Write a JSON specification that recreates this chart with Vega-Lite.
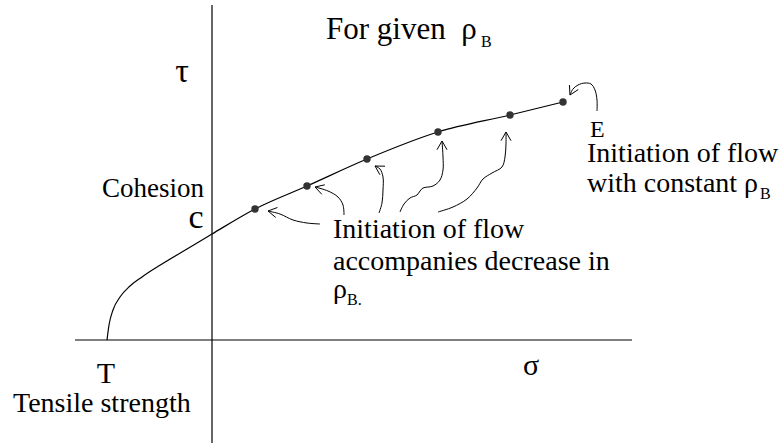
{
  "$schema": "https://vega.github.io/schema/vega-lite/v6.json",
  "width": 784,
  "height": 446,
  "autosize": {"type": "fit", "contains": "padding"},
  "padding": 0,
  "background": "white",
  "config": {"view": {"stroke": null}},
  "datasets": {
    "axes": [
      {"line": "sigma", "ord": 0, "s": -137, "t": 0},
      {"line": "sigma", "ord": 1, "s": 420, "t": 0},
      {"line": "tau", "ord": 0, "s": 0, "t": 335},
      {"line": "tau", "ord": 1, "s": 0, "t": -103}
    ],
    "locus": [
      {"ord": 0, "s": -105, "t": 0},
      {"ord": 1, "s": -103, "t": 15},
      {"ord": 2, "s": -99, "t": 30},
      {"ord": 3, "s": -92, "t": 43},
      {"ord": 4, "s": -82, "t": 54},
      {"ord": 5, "s": -70, "t": 63},
      {"ord": 6, "s": -50, "t": 76},
      {"ord": 7, "s": -25, "t": 91},
      {"ord": 8, "s": 0, "t": 106},
      {"ord": 9, "s": 43, "t": 131},
      {"ord": 10, "s": 95, "t": 154},
      {"ord": 11, "s": 155, "t": 181},
      {"ord": 12, "s": 226, "t": 208},
      {"ord": 13, "s": 298, "t": 225},
      {"ord": 14, "s": 351, "t": 238}
    ],
    "states": [
      {"s": 43, "t": 131},
      {"s": 95, "t": 154},
      {"s": 155, "t": 181},
      {"s": 226, "t": 208},
      {"s": 298, "t": 225},
      {"s": 351, "t": 238}
    ],
    "arrows": [
      {"arrow": 1, "ord": 0, "s": 108, "t": 116},
      {"arrow": 1, "ord": 1, "s": 95, "t": 117},
      {"arrow": 1, "ord": 2, "s": 81, "t": 120},
      {"arrow": 1, "ord": 3, "s": 68, "t": 126},
      {"arrow": 1, "ord": 4, "s": 56, "t": 129},
      {"arrow": 2, "ord": 0, "s": 132, "t": 125},
      {"arrow": 2, "ord": 1, "s": 131, "t": 135},
      {"arrow": 2, "ord": 2, "s": 126, "t": 143},
      {"arrow": 2, "ord": 3, "s": 116, "t": 149},
      {"arrow": 2, "ord": 4, "s": 103, "t": 153},
      {"arrow": 3, "ord": 0, "s": 167, "t": 127},
      {"arrow": 3, "ord": 1, "s": 170, "t": 137},
      {"arrow": 3, "ord": 2, "s": 171, "t": 150},
      {"arrow": 3, "ord": 3, "s": 171, "t": 163},
      {"arrow": 3, "ord": 4, "s": 168, "t": 171},
      {"arrow": 3, "ord": 5, "s": 163, "t": 174},
      {"arrow": 4, "ord": 0, "s": 188, "t": 128},
      {"arrow": 4, "ord": 1, "s": 192, "t": 136},
      {"arrow": 4, "ord": 2, "s": 198, "t": 142},
      {"arrow": 4, "ord": 3, "s": 205, "t": 145},
      {"arrow": 4, "ord": 4, "s": 208, "t": 149},
      {"arrow": 4, "ord": 5, "s": 211, "t": 152},
      {"arrow": 4, "ord": 6, "s": 221, "t": 154},
      {"arrow": 4, "ord": 7, "s": 228, "t": 160},
      {"arrow": 4, "ord": 8, "s": 231, "t": 170},
      {"arrow": 4, "ord": 9, "s": 231, "t": 183},
      {"arrow": 4, "ord": 10, "s": 230, "t": 199},
      {"arrow": 5, "ord": 0, "s": 226, "t": 128},
      {"arrow": 5, "ord": 1, "s": 241, "t": 133},
      {"arrow": 5, "ord": 2, "s": 255, "t": 141},
      {"arrow": 5, "ord": 3, "s": 265, "t": 152},
      {"arrow": 5, "ord": 4, "s": 271, "t": 161},
      {"arrow": 5, "ord": 5, "s": 280, "t": 167},
      {"arrow": 5, "ord": 6, "s": 290, "t": 173},
      {"arrow": 5, "ord": 7, "s": 293, "t": 183},
      {"arrow": 5, "ord": 8, "s": 294, "t": 197},
      {"arrow": 5, "ord": 9, "s": 294, "t": 208},
      {"arrow": 6, "ord": 0, "s": 385, "t": 229},
      {"arrow": 6, "ord": 1, "s": 385, "t": 240},
      {"arrow": 6, "ord": 2, "s": 383, "t": 250},
      {"arrow": 6, "ord": 3, "s": 379, "t": 256},
      {"arrow": 6, "ord": 4, "s": 373, "t": 257},
      {"arrow": 6, "ord": 5, "s": 366, "t": 255},
      {"arrow": 6, "ord": 6, "s": 361, "t": 251},
      {"arrow": 6, "ord": 7, "s": 358, "t": 245}
    ],
    "heads": [
      {"arrow": 1, "ord": 0, "s": 65.4, "t": 132.5},
      {"arrow": 1, "ord": 1, "s": 56, "t": 129},
      {"arrow": 1, "ord": 2, "s": 63.7, "t": 122.6},
      {"arrow": 2, "ord": 0, "s": 112.8, "t": 155.2},
      {"arrow": 2, "ord": 1, "s": 103, "t": 153},
      {"arrow": 2, "ord": 2, "s": 109.8, "t": 145.7},
      {"arrow": 3, "ord": 0, "s": 173, "t": 173.8},
      {"arrow": 3, "ord": 1, "s": 163, "t": 174},
      {"arrow": 3, "ord": 2, "s": 167.9, "t": 165.3},
      {"arrow": 4, "ord": 0, "s": 225, "t": 190.3},
      {"arrow": 4, "ord": 1, "s": 230, "t": 199},
      {"arrow": 4, "ord": 2, "s": 235, "t": 190.3},
      {"arrow": 5, "ord": 0, "s": 289, "t": 199.3},
      {"arrow": 5, "ord": 1, "s": 294, "t": 208},
      {"arrow": 5, "ord": 2, "s": 299, "t": 199.3},
      {"arrow": 6, "ord": 0, "s": 366.3, "t": 250.5},
      {"arrow": 6, "ord": 1, "s": 358, "t": 245},
      {"arrow": 6, "ord": 2, "s": 357.4, "t": 255}
    ],
    "body": [
      {"label": "Initiation of flow", "s": 121, "t": 102},
      {"label": "accompanies decrease in", "s": 121, "t": 70},
      {"label": "ρ", "s": 121, "t": 42},
      {"label": "Initiation of flow", "s": 375, "t": 178},
      {"label": "with constant ρ", "s": 375, "t": 148},
      {"label": "Tensile strength", "s": -199, "t": -72}
    ],
    "subs": [
      {"label": "B", "s": 269, "t": 293},
      {"label": "B", "s": 548, "t": 141},
      {"label": "B.", "s": 135, "t": 35}
    ],
    "symbols": [
      {"label": "τ", "s": -30, "t": 258},
      {"label": "c", "s": -16, "t": 112}
    ],
    "marks": [
      {"label": "T", "s": -106, "t": -43},
      {"label": "σ", "s": 319, "t": -35}
    ]
  },
  "layer": [
    {
      "data": {"name": "axes"},
      "mark": {"type": "line", "color": "black", "strokeWidth": 1.2},
      "encoding": {
        "x": {"field": "s", "type": "quantitative", "scale": {"domain": [-212, 572], "nice": false, "zero": false}, "axis": null},
        "y": {"field": "t", "type": "quantitative", "scale": {"domain": [-106, 340], "nice": false, "zero": false}, "axis": null},
        "detail": {"field": "line"},
        "order": {"field": "ord"}
      }
    },
    {
      "data": {"name": "locus"},
      "mark": {"type": "line", "color": "black", "strokeWidth": 1.2, "interpolate": "monotone"},
      "encoding": {
        "x": {"field": "s", "type": "quantitative"},
        "y": {"field": "t", "type": "quantitative"},
        "order": {"field": "ord"}
      }
    },
    {
      "data": {"name": "arrows"},
      "mark": {"type": "line", "color": "black", "strokeWidth": 1, "interpolate": "catmull-rom"},
      "encoding": {
        "x": {"field": "s", "type": "quantitative"},
        "y": {"field": "t", "type": "quantitative"},
        "detail": {"field": "arrow"},
        "order": {"field": "ord"}
      }
    },
    {
      "data": {"name": "heads"},
      "mark": {"type": "line", "color": "black", "strokeWidth": 1},
      "encoding": {
        "x": {"field": "s", "type": "quantitative"},
        "y": {"field": "t", "type": "quantitative"},
        "detail": {"field": "arrow"},
        "order": {"field": "ord"}
      }
    },
    {
      "data": {"name": "states"},
      "mark": {"type": "circle", "color": "#333333", "opacity": 1, "size": 55},
      "encoding": {
        "x": {"field": "s", "type": "quantitative"},
        "y": {"field": "t", "type": "quantitative"}
      }
    },
    {
      "data": {"values": [{"label": "For given\u00a0\u00a0ρ", "s": 114, "t": 301}]},
      "mark": {"type": "text", "font": "Liberation Serif", "color": "black", "fontSize": 31, "align": "left", "baseline": "alphabetic"},
      "encoding": {
        "x": {"field": "s", "type": "quantitative"},
        "y": {"field": "t", "type": "quantitative"},
        "text": {"field": "label"}
      }
    },
    {
      "data": {"name": "body"},
      "mark": {"type": "text", "font": "Liberation Serif", "color": "black", "fontSize": 28, "align": "left", "baseline": "alphabetic"},
      "encoding": {
        "x": {"field": "s", "type": "quantitative"},
        "y": {"field": "t", "type": "quantitative"},
        "text": {"field": "label"}
      }
    },
    {
      "data": {"name": "subs"},
      "mark": {"type": "text", "font": "Liberation Serif", "color": "black", "fontSize": 16, "align": "left", "baseline": "alphabetic"},
      "encoding": {
        "x": {"field": "s", "type": "quantitative"},
        "y": {"field": "t", "type": "quantitative"},
        "text": {"field": "label"}
      }
    },
    {
      "data": {"values": [{"label": "Cohesion", "s": -8, "t": 143}]},
      "mark": {"type": "text", "font": "Liberation Serif", "color": "black", "fontSize": 27, "align": "right", "baseline": "alphabetic"},
      "encoding": {
        "x": {"field": "s", "type": "quantitative"},
        "y": {"field": "t", "type": "quantitative"},
        "text": {"field": "label"}
      }
    },
    {
      "data": {"name": "symbols"},
      "mark": {"type": "text", "font": "Liberation Serif", "color": "black", "fontSize": 34, "align": "center", "baseline": "alphabetic"},
      "encoding": {
        "x": {"field": "s", "type": "quantitative"},
        "y": {"field": "t", "type": "quantitative"},
        "text": {"field": "label"}
      }
    },
    {
      "data": {"name": "marks"},
      "mark": {"type": "text", "font": "Liberation Serif", "color": "black", "fontSize": 30, "align": "center", "baseline": "alphabetic"},
      "encoding": {
        "x": {"field": "s", "type": "quantitative"},
        "y": {"field": "t", "type": "quantitative"},
        "text": {"field": "label"}
      }
    },
    {
      "data": {"values": [{"label": "E", "s": 378, "t": 203}]},
      "mark": {"type": "text", "font": "Liberation Serif", "color": "black", "fontSize": 24, "align": "left", "baseline": "alphabetic"},
      "encoding": {
        "x": {"field": "s", "type": "quantitative"},
        "y": {"field": "t", "type": "quantitative"},
        "text": {"field": "label"}
      }
    }
  ]
}
